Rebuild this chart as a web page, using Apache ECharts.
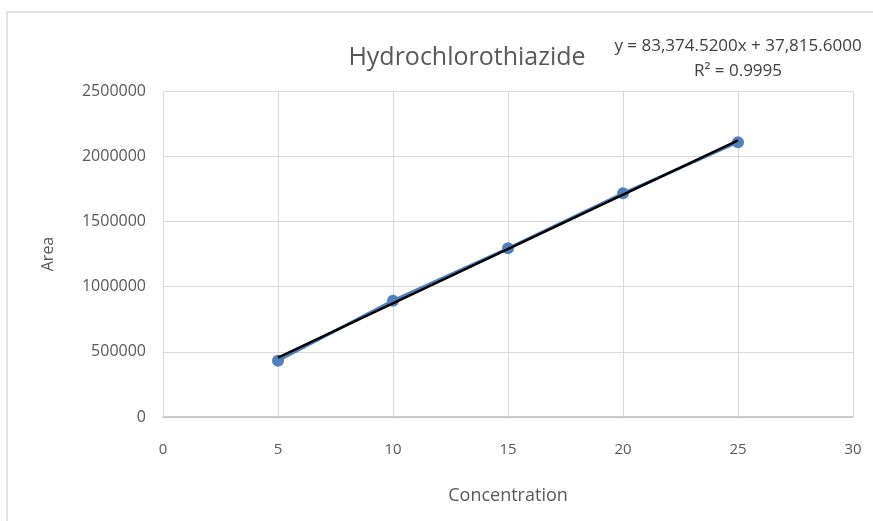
<!DOCTYPE html>
<html>
<head>
<meta charset="utf-8">
<script src="https://cdn.jsdelivr.net/npm/echarts@6/dist/echarts.min.js"></script>
<style>
  html, body { margin: 0; padding: 0; background: #fff; }
  #main { width: 873px; height: 521px; }
</style>
</head>
<body>
<div id="main"></div>
<script>
// concentration / area data
var concentration = [5, 10, 15, 20, 25];
var area = [432000, 892000, 1294000, 1715000, 2107000];
// trendline end points (from y = 83,374.52x + 37,815.6)
var trendX = [5, 25];
var trendY = [454688, 2122179];

var xTicks = [0, 5, 10, 15, 20, 25, 30];
var yTicks = [0, 500000, 1000000, 1500000, 2000000, 2500000];

var font = 'Open Sans';

var myChart = echarts.init(document.getElementById('main'));

var points = concentration.map(function (c, i) { return [c, area[i]]; });
var trend = trendX.map(function (c, i) { return [c, trendY[i]]; });

var option = {
    backgroundColor: '#fff',
    animation: false,
    title: {
        text: 'Hydrochlorothiazide',
        left: 462,
        top: 40,
        textAlign: 'center',
        textStyle: { fontFamily: font, fontSize: 25, fontWeight: 'normal', color: '#595959' }
    },
    graphic: [
        {
            type: 'rect',
            shape: { x: 7, y: 12, width: 1000, height: 700 },
            style: { fill: 'none', stroke: '#d9d9d9', lineWidth: 1.5 },
            silent: true
        },
        {
            type: 'text',
            x: 738,
            y: 46,
            style: {
                text: 'y = 83,374.5200x + 37,815.6000',
                align: 'center', verticalAlign: 'middle',
                fontFamily: font, fontSize: 17, fill: '#404040'
            }
        },
        {
            type: 'text',
            x: 738,
            y: 71,
            style: {
                text: 'R² = 0.9995',
                align: 'center', verticalAlign: 'middle',
                fontFamily: font, fontSize: 17, fill: '#404040'
            }
        }
    ],
    grid: { left: 163, right: 20, top: 91, bottom: 104 },
    xAxis: {
        type: 'value',
        min: xTicks[0],
        max: xTicks[xTicks.length - 1],
        interval: 5,
        name: 'Concentration',
        nameLocation: 'middle',
        nameGap: 70,
        nameTextStyle: { fontFamily: font, fontSize: 18, color: '#595959' },
        axisLine: { show: true, onZero: false, lineStyle: { color: '#bfbfbf', width: 1.5 } },
        axisTick: { show: false },
        axisLabel: { margin: 25, fontFamily: font, fontSize: 15, color: '#595959' },
        splitLine: { show: true, lineStyle: { color: '#d9d9d9', width: 1 } }
    },
    yAxis: {
        type: 'value',
        min: yTicks[0],
        max: yTicks[yTicks.length - 1],
        interval: 500000,
        name: 'Area',
        nameLocation: 'middle',
        nameGap: 107,
        nameTextStyle: { fontFamily: font, fontSize: 16, color: '#595959' },
        axisLine: { show: false },
        axisTick: { show: false },
        axisLabel: {
            margin: 17, fontFamily: font, fontSize: 16, color: '#595959',
            formatter: function (v) { return String(v); }
        },
        splitLine: { show: true, lineStyle: { color: '#d9d9d9', width: 1 } }
    },
    series: [
        {
            name: 'Area',
            type: 'line',
            data: points,
            symbol: 'circle',
            symbolSize: 12,
            itemStyle: { color: '#4f81bd' },
            lineStyle: { color: '#4f81bd', width: 3 },
            z: 2
        },
        {
            name: 'Linear',
            type: 'line',
            data: trend,
            symbol: 'none',
            lineStyle: { color: '#000', width: 2.5 },
            z: 3
        }
    ]
};

myChart.setOption(option);
</script>
</body>
</html>
